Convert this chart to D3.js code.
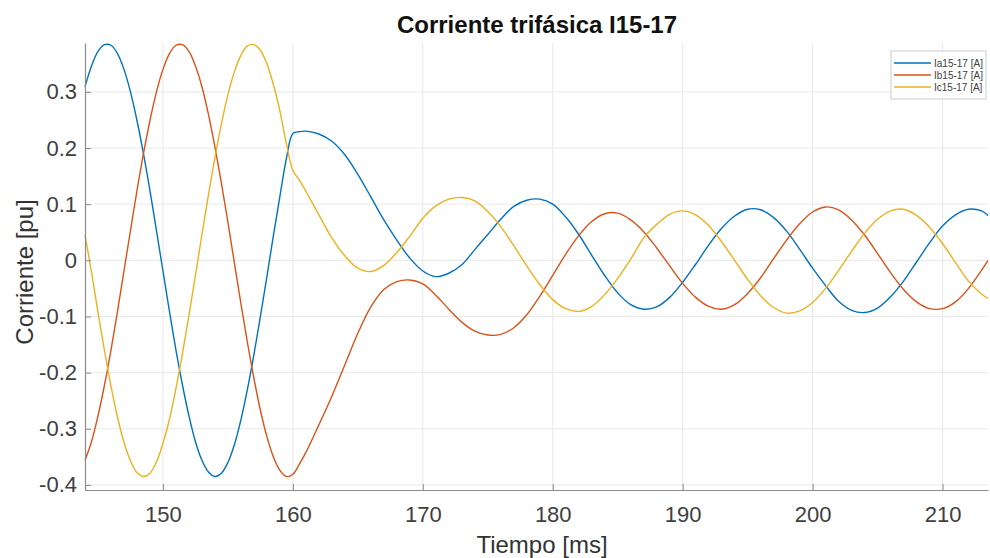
<!DOCTYPE html>
<html>
  <head>
    <meta charset="utf-8">
    <title>Corriente trifásica I15-17</title>
    <script src="https://d3js.org/d3.v7.min.js"></script>
    <style>
      body { margin: 0; background: #fff; }
      svg { display: block; font-family: "Liberation Sans", Arial, Helvetica, sans-serif; }
    </style>
  </head>
  <body>
<script>

// Chart data (time in ms, current in pu)
var time = [144, 144.5, 145, 145.5, 146, 146.5, 147, 147.5, 148, 148.5, 149, 149.5, 150, 150.5, 151, 151.5,
            152, 152.5, 153, 153.5, 154, 154.5, 155, 155.5, 156, 156.5, 157, 157.5, 158, 158.5, 159, 159.5,
            160, 160.5,
            161, 162, 163, 164, 165, 166, 167, 168, 169, 170, 171, 172, 173, 174, 175, 176, 177, 178, 179, 180,
            181, 182, 183, 184, 185, 186, 187, 188, 189, 190, 191, 192, 193, 194, 195, 196, 197, 198, 199, 200,
            201, 202, 203, 204, 205, 206, 207, 208, 209, 210, 211, 212, 213, 213.5];

var ia = [0.309, 0.346, 0.372, 0.384, 0.383, 0.368, 0.340, 0.300, 0.249, 0.190, 0.124, 0.053, -0.019, -0.091, -0.160, -0.222,
          -0.277, -0.323, -0.356, -0.377, -0.385, -0.379, -0.360, -0.328, -0.284, -0.230, -0.168, -0.100, -0.029, 0.044, 0.114, 0.181,
          0.226, 0.229,
          0.230, 0.225, 0.212, 0.188, 0.153, 0.113, 0.072, 0.036, 0.004, -0.019, -0.029, -0.023, -0.008, 0.019, 0.046, 0.073, 0.096, 0.107, 0.109, 0.100,
          0.077, 0.046, 0.009, -0.027, -0.058, -0.079, -0.087, -0.083, -0.066, -0.039, -0.007, 0.027, 0.057, 0.079, 0.091, 0.090, 0.076, 0.052, 0.020, -0.014,
          -0.045, -0.073, -0.089, -0.093, -0.085, -0.065, -0.037, -0.003, 0.031, 0.061, 0.081, 0.091, 0.088, 0.080];

var ib = [-0.356, -0.323, -0.277, -0.222, -0.160, -0.091, -0.019, 0.053, 0.124, 0.190, 0.249, 0.300, 0.340, 0.368, 0.383, 0.384,
          0.372, 0.346, 0.309, 0.260, 0.202, 0.137, 0.068, -0.005, -0.077, -0.146, -0.210, -0.267, -0.314, -0.350, -0.374, -0.385,
          -0.381, -0.363,
          -0.342, -0.293, -0.242, -0.186, -0.130, -0.083, -0.052, -0.038, -0.035, -0.042, -0.062, -0.087, -0.110, -0.126, -0.133, -0.132, -0.120, -0.097, -0.064, -0.027,
          0.011, 0.044, 0.069, 0.083, 0.084, 0.072, 0.051, 0.022, -0.010, -0.041, -0.066, -0.082, -0.087, -0.079, -0.059, -0.031, 0.003, 0.036, 0.065, 0.086,
          0.095, 0.090, 0.072, 0.045, 0.012, -0.022, -0.052, -0.074, -0.086, -0.086, -0.074, -0.050, -0.018, 0.000];

var ic = [0.045, -0.021, -0.093, -0.161, -0.224, -0.279, -0.324, -0.357, -0.378, -0.385, -0.379, -0.359, -0.326, -0.283, -0.228, -0.166,
          -0.098, -0.027, 0.046, 0.116, 0.183, 0.243, 0.295, 0.336, 0.365, 0.382, 0.384, 0.374, 0.350, 0.313, 0.266, 0.208,
          0.160, 0.143,
          0.123, 0.081, 0.040, 0.008, -0.014, -0.020, -0.009, 0.014, 0.043, 0.075, 0.097, 0.109, 0.112, 0.106, 0.087, 0.060, 0.026, -0.010, -0.043, -0.070,
          -0.086, -0.091, -0.082, -0.061, -0.032, 0.002, 0.040, 0.064, 0.082, 0.088, 0.081, 0.062, 0.033, 0.000, -0.034, -0.063, -0.084, -0.094, -0.090, -0.075,
          -0.050, -0.018, 0.016, 0.048, 0.073, 0.088, 0.091, 0.080, 0.059, 0.030, -0.004, -0.037, -0.060, -0.068];

var seriesNames = ["Ia15-17 [A]", "Ib15-17 [A]", "Ic15-17 [A]"];
var xTicks = [150, 160, 170, 180, 190, 200, 210];
var yTicks = [-0.4, -0.3, -0.2, -0.1, 0, 0.1, 0.2, 0.3];
var yTickLabels = ["-0.4", "-0.3", "-0.2", "-0.1", "0", "0.1", "0.2", "0.3"];

var series = [ia, ib, ic];
var colors = ["#0072BD", "#D95319", "#EDB120"];

// canvas / graph size
var margin = {top: 43, right: 2, bottom: 68, left: 85},
    width = 990 - margin.left - margin.right,
    height = 558 - margin.top - margin.bottom;

var x = d3.scaleLinear().domain([144, 213.5]).range([0, width]);
var y = d3.scaleLinear().domain([-0.409, 0.387]).range([height, 0]);

var root = d3.select("body")
    .append("svg")
    .attr("width", 990)
    .attr("height", 558);

var svg = root.append("g")
    .attr("transform", "translate(" + margin.left + "," + margin.top + ")");

// grid
svg.append("g")
   .selectAll("line")
   .data(xTicks)
   .enter().append("line")
   .attr("x1", function(d) { return x(d); })
   .attr("x2", function(d) { return x(d); })
   .attr("y1", 0)
   .attr("y2", height)
   .style("stroke", "#e8e8e8");

svg.append("g")
   .selectAll("line")
   .data(yTicks)
   .enter().append("line")
   .attr("x1", 0)
   .attr("x2", width)
   .attr("y1", function(d) { return y(d); })
   .attr("y2", function(d) { return y(d); })
   .style("stroke", "#e8e8e8");

// the three phase currents
var line = d3.line()
    .x(function(d, i) { return x(time[i]); })
    .y(function(d) { return y(d); })
    .curve(d3.curveCatmullRom.alpha(0.5));

svg.selectAll(".phase")
   .data(series)
   .enter().append("path")
   .attr("class", "phase")
   .attr("d", line)
   .style("fill", "none")
   .style("stroke-width", "1.4px")
   .style("stroke", function(d, i) { return colors[i]; });

// axes (MATLAB style: ticks pointing inward)
var xAxis = svg.append("g")
    .attr("transform", "translate(0," + height + ")")
    .call(d3.axisBottom(x).tickValues(xTicks).tickSizeInner(-6).tickSizeOuter(0).tickPadding(16));

var yAxis = svg.append("g")
    .call(d3.axisLeft(y).tickValues(yTicks).tickSizeInner(-6).tickSizeOuter(0).tickPadding(8)
      .tickFormat(function(d, i) { return yTickLabels[i]; }));

[xAxis, yAxis].forEach(function(a) {
  a.select(".domain").style("stroke", "#8c8c8c").style("stroke-width", "1.2px");
  a.selectAll(".tick line").style("stroke", "#8c8c8c");
  a.selectAll("text").style("font-size", "22px").style("fill", "#404040")
   .style("font-family", "'Liberation Sans', Arial, sans-serif");
});

// legend
var legend = svg.append("g")
    .attr("transform", "translate(" + (width - 97) + ",8)");

legend.append("rect")
      .attr("width", 95)
      .attr("height", 48)
      .style("fill", "#fff")
      .style("stroke", "#cccccc");

var entries = legend.selectAll(".entry")
    .data(seriesNames)
    .enter().append("g")
    .attr("class", "entry")
    .attr("transform", function(d, i) { return "translate(0," + (12 + i * 12) + ")"; });

entries.append("line")
       .attr("x1", 3)
       .attr("x2", 40)
       .style("stroke-width", "1.4px")
       .style("stroke", function(d, i) { return colors[i]; });

entries.append("text")
       .attr("x", 43)
       .attr("dy", ".35em")
       .style("font-size", "10px")
       .style("fill", "#404040")
       .text(function(d) { return d; });

// title and labels
root.append("text")
    .attr("x", 537)
    .attr("y", 33)
    .style("text-anchor", "middle")
    .style("font-size", "24px")
    .style("font-weight", "bold")
    .style("fill", "#111")
    .text("Corriente trifásica I15-17");

root.append("text")
    .attr("x", 542)
    .attr("y", 553)
    .style("text-anchor", "middle")
    .style("font-size", "24px")
    .style("fill", "#333")
    .text("Tiempo [ms]");

root.append("text")
    .attr("transform", "translate(33,272) rotate(-90)")
    .style("text-anchor", "middle")
    .style("font-size", "24px")
    .style("fill", "#333")
    .text("Corriente [pu]");

</script>
  </body>
</html>
